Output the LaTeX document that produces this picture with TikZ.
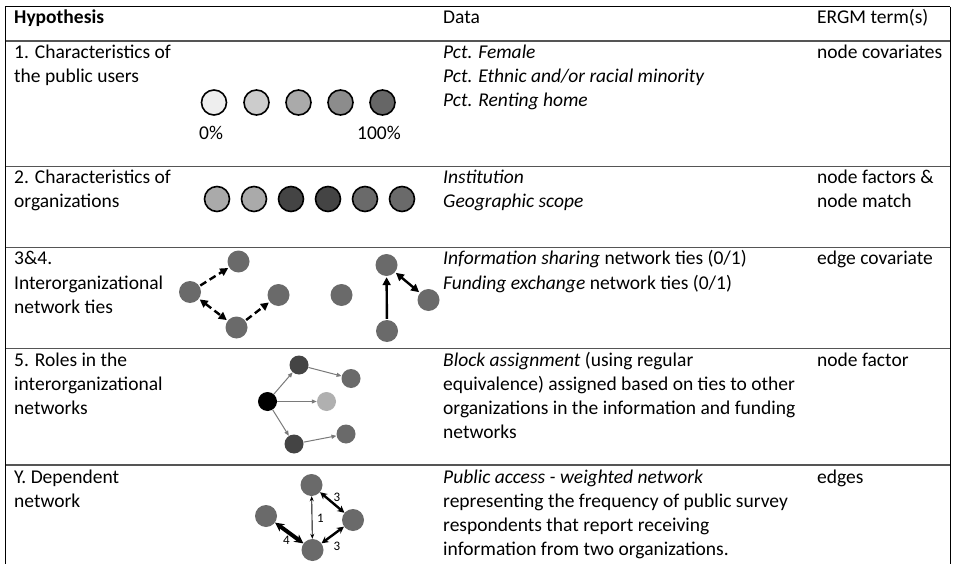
\documentclass[tikz,border=0pt]{standalone}
\usepackage{fontspec}
\setmainfont{Carlito}
\usetikzlibrary{arrows.meta}
\definecolor{rulec}{HTML}{555555}
\definecolor{gA}{HTML}{EEEEEE}
\definecolor{gB}{HTML}{CCCCCC}
\definecolor{gC}{HTML}{AAAAAA}
\definecolor{gD}{HTML}{8C8C8C}
\definecolor{gE}{HTML}{666666}
\definecolor{dk}{HTML}{444444}
\definecolor{md}{HTML}{6A6A6A}
\definecolor{lt}{HTML}{B0B0B0}
\definecolor{edgec}{HTML}{7A7A7A}
\begin{document}
\begin{tikzpicture}[x=1pt,y=-1pt,
  txt/.style={anchor=base west, inner sep=0pt, font=\fontsize{19.5}{22}\selectfont},
  hdr/.style={txt, font=\fontsize{19.5}{22}\selectfont\bfseries},
  it/.style={txt, font=\fontsize{19.5}{22}\selectfont\itshape},
  rule/.style={draw=rulec, line width=1.3pt},
  ring/.style={circle, draw=black, line width=1.6pt, minimum size=25pt, inner sep=0pt},
  dot/.style={circle, fill=md, minimum size=22pt, inner sep=0pt},
  sdot/.style={circle, minimum size=19pt, inner sep=0pt},
  tie/.style={line width=2.4pt, -{Triangle[length=8pt,width=8pt]}, shorten >=1pt, shorten <=1pt},
  dtie/.style={tie, dash pattern=on 7pt off 4pt},
  thin/.style={draw=edgec, line width=1pt, -{Triangle[length=5pt,width=4pt]}},
  wlab/.style={inner sep=0pt, font=\fontsize{13}{14}\selectfont}
]
\useasboundingbox (0,0) rectangle (953,564);
\fill[white] (0,0) rectangle (953,564);
% table rules
\draw[black, line width=1pt] (5,7) -- (950,7);
\draw[rule] (5,41) -- (950,41);
\draw[rule] (5,166.5) -- (950,166.5);
\draw[rule] (5,247.5) -- (950,247.5);
\draw[rule] (5,348.5) -- (950,348.5);
\draw[rule] (5,465) -- (950,465);
\draw[black, line width=1pt] (5,7) -- (5,564);
\draw[black, line width=1pt] (950,7) -- (950,564);
% header
\node[hdr] (h1) at (14,24) {Hypothesis};
\node[txt] (h2) at (443,24) {Data};
\node[txt] (h3) at (817,24) {ERGM term(s)};
% row 1
\node[txt] (r1a) at (14,59) {1. Characteristics of};
\node[txt] (r1b) at (14,83) {the public users};
\node[it] (d1a) at (443,59) {Pct. Female};
\node[it] (d1b) at (443,83) {Pct. Ethnic and/or racial minority};
\node[it] (d1c) at (443,107) {Pct. Renting home};
\node[txt] (e1) at (817,59) {node covariates};
\node[ring, fill=gA] (c1) at (214,102.5) {};
\node[ring, fill=gB] (c2) at (256.5,102.5) {};
\node[ring, fill=gC] (c3) at (298.5,102.5) {};
\node[ring, fill=gD] (c4) at (340.5,102.5) {};
\node[ring, fill=gE] (c5) at (382.5,102.5) {};
\node[txt] (p0) at (199,139.5) {0\%};
\node[txt] (p100) at (357,139.5) {100\%};
% row 2
\node[txt] (r2a) at (14,184) {2. Characteristics of};
\node[txt] (r2b) at (14,208) {organizations};
\node[it] (d2a) at (443,184) {Institution};
\node[it] (d2b) at (443,208) {Geographic scope};
\node[txt] (e2a) at (817,184) {node factors \&};
\node[txt] (e2b) at (817,208) {node match};
\node[ring, fill=gC] (o1) at (217,199) {};
\node[ring, fill=gC] (o2) at (254,199) {};
\node[ring, fill=dk] (o3) at (291,199) {};
\node[ring, fill=dk] (o4) at (328,199) {};
\node[ring, fill=md] (o5) at (365,199) {};
\node[ring, fill=md] (o6) at (402,199) {};
% row 3
\node[txt] (r3a) at (14,265) {3\&4.};
\node[txt] (r3b) at (14,289) {Interorganizational};
\node[txt] (r3c) at (14,313) {network ties};
\node[txt] (d3a) at (443,265) {\textit{Information sharing} network ties (0/1)};
\node[txt] (d3b) at (443,289) {\textit{Funding exchange} network ties (0/1)};
\node[txt] (e3) at (817,265) {edge covariate};
\node[dot] (nA) at (238.5,261.5) {};
\node[dot] (nB) at (190,292) {};
\node[dot] (nC) at (278.5,295) {};
\node[dot] (nD) at (236.5,327.5) {};
\node[dot] (nE) at (341.5,295) {};
\node[dot] (nF) at (386.5,265) {};
\node[dot] (nG) at (428.5,300) {};
\node[dot] (nH) at (387,331) {};
\draw[dtie] (nB) -- (nA);
\draw[dtie, {Triangle[length=8pt,width=8pt]}-{Triangle[length=8pt,width=8pt]}] (nB) -- (nD);
\draw[dtie] (nD) -- (nC);
\draw[tie] (nH) -- (nF);
\draw[tie, {Triangle[length=8pt,width=8pt]}-{Triangle[length=8pt,width=8pt]}] (nF) -- (nG);
% row 5
\node[txt] (r5a) at (14,366) {5. Roles in the};
\node[txt] (r5b) at (14,390) {interorganizational};
\node[txt] (r5c) at (14,414) {networks};
\node[txt] (d5a) at (443,366) {\textit{Block assignment} (using regular};
\node[txt] (d5b) at (443,390) {equivalence) assigned based on ties to other};
\node[txt] (d5c) at (443,414) {organizations in the information and funding};
\node[txt] (d5d) at (443,438) {networks};
\node[txt] (e5) at (817,366) {node factor};
\node[sdot, fill=dk] (m1) at (299,365) {};
\node[sdot, fill=md] (m2) at (351,378.5) {};
\node[sdot, fill=black] (m3) at (267.5,401.5) {};
\node[sdot, fill=lt] (m4) at (326.5,401.5) {};
\node[sdot, fill=dk] (m5) at (294,444) {};
\node[sdot, fill=md] (m6) at (346,434) {};
\draw[thin] (m3) -- (m1);
\draw[thin] (m1) -- (m2);
\draw[thin] (m3) -- (m4);
\draw[thin] (m3) -- (m5);
\draw[thin] (m5) -- (m6);
% row Y
\node[txt] (rya) at (14,483) {Y. Dependent};
\node[txt] (ryb) at (14,507) {network};
\node[txt] (dya) at (443,483) {\textit{Public access - weighted network}};
\node[txt] (dyb) at (443,507) {representing the frequency of public survey};
\node[txt] (dyc) at (443,531) {respondents that report receiving};
\node[txt] (dyd) at (443,555) {information from two organizations.};
\node[txt] (ey) at (817,483) {edges};
\node[dot] (y1) at (311.5,485) {};
\node[dot] (y2) at (266,516) {};
\node[dot] (y3) at (353,520) {};
\node[dot] (y4) at (312.5,550) {};
\draw[line width=0.9pt, {Stealth[length=5pt,width=4pt]}-{Stealth[length=5pt,width=4pt]}] (y1) -- (y4);
\draw[line width=2.4pt, {Stealth[length=7pt,width=7pt]}-{Stealth[length=7pt,width=7pt]}] (y1) -- (y3);
\draw[line width=2.4pt, {Stealth[length=7pt,width=7pt]}-{Stealth[length=7pt,width=7pt]}] (y3) -- (y4);
\draw[line width=4pt, {Stealth[length=9pt,width=9pt]}-{Stealth[length=9pt,width=9pt]}] (y2) -- (y4);
\node[wlab] (w1) at (320.5,518) {1};
\node[wlab] (w2) at (337,497.5) {3};
\node[wlab] (w3) at (337,546) {3};
\node[wlab] (w4) at (286.5,540.5) {4};
\end{tikzpicture}
\end{document}
